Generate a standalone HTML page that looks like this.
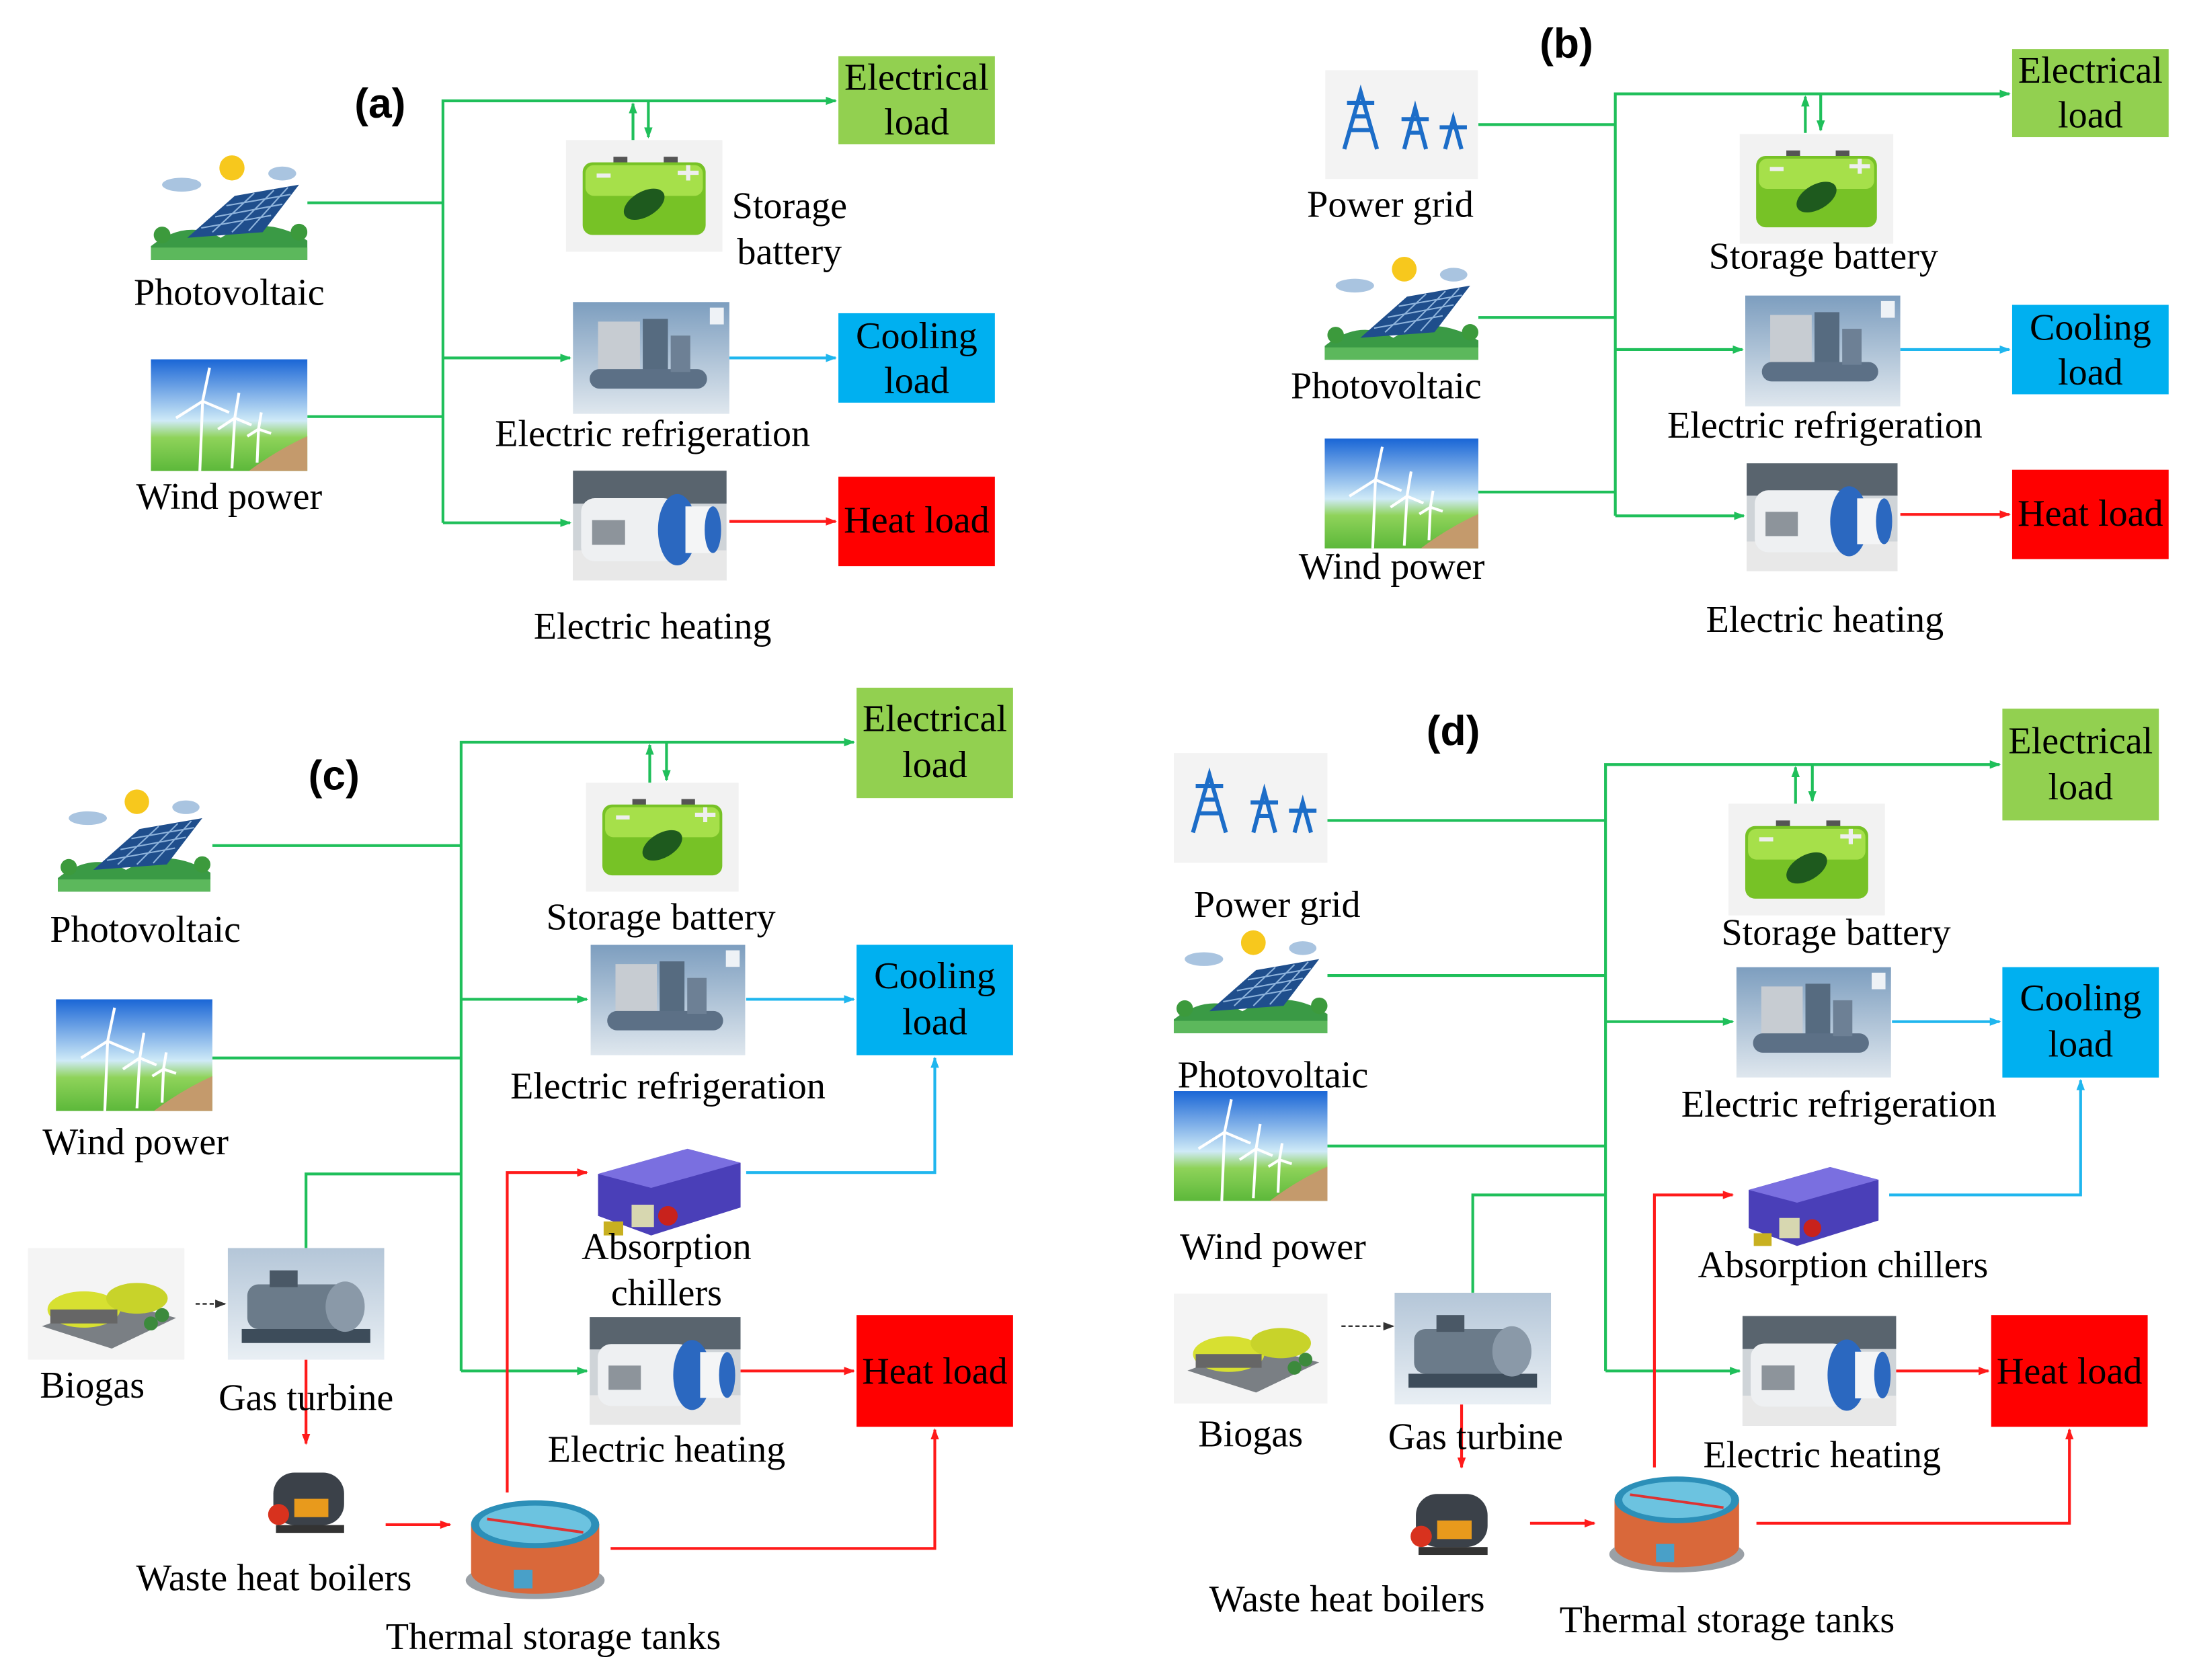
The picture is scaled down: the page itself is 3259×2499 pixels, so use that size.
<!DOCTYPE html>
<html><head><meta charset="utf-8"><style>
html,body{margin:0;padding:0;background:#fff}
svg{display:block}
text{font-family:"Liberation Serif",serif;fill:#000}
.l{font-size:27px;text-anchor:middle}
.b{font-size:27px;text-anchor:middle}
.t{font-family:"Liberation Sans",sans-serif;font-weight:bold;font-size:30px;text-anchor:middle}
.g{stroke:#1fbf5a;stroke-width:2;fill:none}
.c{stroke:#1fb6ee;stroke-width:2;fill:none}
.r{stroke:#ff1a1a;stroke-width:2;fill:none}
</style></head><body>
<svg width="3259" height="2499" viewBox="0 0 1568 1202" xmlns="http://www.w3.org/2000/svg">
<defs>
<marker id="mg" markerWidth="8" markerHeight="8" refX="7" refY="4" orient="auto" markerUnits="userSpaceOnUse"><path d="M0,1 L8,4 L0,7z" fill="#1fbf5a"/></marker>
<marker id="mb" markerWidth="8" markerHeight="8" refX="7" refY="4" orient="auto" markerUnits="userSpaceOnUse"><path d="M0,1 L8,4 L0,7z" fill="#1fb6ee"/></marker>
<marker id="mr" markerWidth="8" markerHeight="8" refX="7" refY="4" orient="auto" markerUnits="userSpaceOnUse"><path d="M0,1 L8,4 L0,7z" fill="#ff1a1a"/></marker>
<marker id="mk" markerWidth="8" markerHeight="8" refX="7" refY="4" orient="auto" markerUnits="userSpaceOnUse"><path d="M0,1 L8,4 L0,7z" fill="#333"/></marker>
<linearGradient id="sky" x1="0" y1="0" x2="0" y2="1"><stop offset="0" stop-color="#1a66d6"/><stop offset="0.55" stop-color="#cfeaf7"/><stop offset="0.7" stop-color="#8fd35a"/><stop offset="1" stop-color="#5cb83a"/></linearGradient>
<linearGradient id="rf" x1="0" y1="0" x2="0" y2="1"><stop offset="0" stop-color="#7d9ebf"/><stop offset="1" stop-color="#dfe7ee"/></linearGradient>
<linearGradient id="gtg" x1="0" y1="0" x2="0" y2="1"><stop offset="0" stop-color="#b4c6d8"/><stop offset="1" stop-color="#e9eff4"/></linearGradient>
<symbol id="pv" viewBox="0 0 112 80">
<rect width="112" height="80" fill="#fff"/>
<ellipse cx="22" cy="26" rx="14" ry="5" fill="#a9c4e0"/><ellipse cx="94" cy="18" rx="10" ry="5" fill="#a9c4e0"/>
<circle cx="58" cy="14" r="9" fill="#f7c81d"/>
<path d="M0,70 Q25,50 50,64 Q80,46 112,66 L112,80 L0,80z" fill="#3a9a45"/>
<path d="M26,64 L60,34 L106,26 L80,60z" fill="#1f4e8c"/>
<path d="M36,57 L86,48 M46,49 L94,40 M54,41 L100,33 M44,60 L74,32 M58,60 L88,30 M70,59 L98,28" stroke="#8fb4dc" stroke-width="1"/>
<rect x="0" y="71" width="112" height="9" fill="#5cb85c"/>
<circle cx="8" cy="62" r="6" fill="#3c9a3c"/><circle cx="106" cy="60" r="6" fill="#3c9a3c"/>
</symbol>
<symbol id="wind" viewBox="0 0 112 80">
<rect width="112" height="80" fill="url(#sky)"/>
<path d="M70,80 Q90,65 112,55 L112,80z" fill="#c49a6c"/>
<g stroke="#fff" stroke-width="2"><path d="M35,80 L37,30 M37,30 L42,6 M37,30 L18,42 M37,30 L56,38"/><path d="M58,78 L60,42 M60,42 L63,24 M60,42 L48,50 M60,42 L72,47"/><path d="M76,74 L77,50 M77,50 L79,38 M77,50 L69,55 M77,50 L86,53"/></g>
</symbol>
<symbol id="bat" viewBox="0 0 112 80">
<rect width="112" height="80" fill="#f2f2f2"/>
<rect x="34" y="12" width="10" height="6" fill="#555"/><rect x="70" y="12" width="10" height="6" fill="#555"/>
<rect x="12" y="16" width="88" height="52" rx="7" fill="#77c226"/>
<rect x="14" y="18" width="84" height="22" rx="6" fill="#a6e04a"/>
<ellipse cx="56" cy="46" rx="16" ry="9" transform="rotate(-30 56 46)" fill="#1e5a1e"/>
<rect x="22" y="24" width="10" height="3" fill="#eee"/><path d="M80,22 h6 v-4 h3 v4 h6 v3 h-6 v4 h-3 v-4 h-6z" fill="#eee"/>
</symbol>
<symbol id="ref" viewBox="0 0 112 80">
<rect width="112" height="80" fill="url(#rf)"/>
<rect x="18" y="14" width="30" height="36" fill="#c7ccd2"/>
<rect x="50" y="12" width="18" height="40" fill="#566b80"/>
<rect x="12" y="48" width="84" height="14" rx="7" fill="#5c7086"/>
<rect x="70" y="24" width="14" height="26" fill="#6d8095"/>
<rect x="98" y="4" width="10" height="12" fill="#eef2f6"/>
</symbol>
<symbol id="heat" viewBox="0 0 112 80">
<rect width="112" height="80" fill="#cfd4d8"/>
<rect x="0" y="0" width="112" height="24" fill="#59646e"/>
<rect x="0" y="58" width="112" height="22" fill="#e8e8e8"/>
<rect x="6" y="20" width="70" height="46" rx="10" fill="#eef0f2"/>
<ellipse cx="76" cy="43" rx="14" ry="26" fill="#2b68c0"/>
<rect x="82" y="26" width="20" height="34" fill="#f4f5f6"/><ellipse cx="102" cy="43" rx="6" ry="17" fill="#2b68c0"/>
<rect x="14" y="36" width="24" height="18" fill="#8d949b"/>
</symbol>
<symbol id="grid" viewBox="0 0 112 80">
<rect width="112" height="80" fill="#f3f3f3"/>
<g stroke="#1c6dc8" stroke-width="3" fill="none">
<path d="M14,58 L26,16 L38,58 M18,44 L34,44 M16,24 L36,24 M20,34 L32,34"/>
<path d="M58,58 L66,28 L74,58 M56,36 L76,36 M60,46 L72,46"/>
<path d="M88,58 L94,36 L100,58 M84,42 L104,42"/></g>
</symbol>
<symbol id="bio" viewBox="0 0 112 80">
<rect width="112" height="80" fill="#f4f4f4"/>
<path d="M10,56 L60,72 L106,50 L60,38z" fill="#7a7f84"/>
<ellipse cx="40" cy="44" rx="26" ry="13" fill="#d7e031"/><ellipse cx="78" cy="36" rx="22" ry="11" fill="#c8d32a"/>
<rect x="16" y="44" width="48" height="10" fill="#666"/>
<circle cx="96" cy="48" r="5" fill="#3c8a3c"/><circle cx="88" cy="54" r="5" fill="#3c8a3c"/>
</symbol>
<symbol id="gtb" viewBox="0 0 112 80">
<rect width="112" height="80" fill="url(#gtg)"/>
<rect x="10" y="58" width="92" height="10" fill="#3d4c5a"/>
<rect x="14" y="26" width="80" height="32" rx="8" fill="#6b7b8a"/>
<ellipse cx="84" cy="42" rx="14" ry="18" fill="#8a99a8"/>
<rect x="30" y="16" width="20" height="12" fill="#4a5866"/>
</symbol>
<symbol id="boil" viewBox="0 0 80 80">
<rect width="80" height="80" fill="#fff"/>
<rect x="14" y="20" width="54" height="40" rx="16" fill="#3b4149"/>
<rect x="30" y="40" width="26" height="14" fill="#e89a1c"/>
<circle cx="18" cy="52" r="8" fill="#d8321e"/>
<rect x="16" y="60" width="52" height="6" fill="#333"/>
</symbol>
<symbol id="tank" viewBox="0 0 112 90">
<rect width="112" height="90" fill="#fff"/>
<ellipse cx="56" cy="70" rx="52" ry="14" fill="#9aa0a6"/>
<path d="M8,28 L8,64 A48,16 0 0 0 104,64 L104,28z" fill="#d9683a"/>
<ellipse cx="56" cy="28" rx="48" ry="18" fill="#2c8fb8"/>
<ellipse cx="56" cy="28" rx="42" ry="14" fill="#6cc3e0"/>
<path d="M20,24 L92,34" stroke="#d33" stroke-width="2"/>
<rect x="40" y="62" width="14" height="14" fill="#49a0c8"/>
</symbol>
<symbol id="abs" viewBox="0 0 112 90">
<rect width="112" height="90" fill="#fff"/>
<path d="M6,40 L70,22 L108,32 L108,64 L44,84 L6,70z" fill="#4a3fb8"/>
<path d="M6,40 L70,22 L108,32 L44,50z" fill="#7a6fe0"/>
<rect x="30" y="62" width="16" height="16" fill="#d7d7b0"/>
<circle cx="56" cy="70" r="7" fill="#c8221c"/>
<rect x="10" y="74" width="14" height="10" fill="#c8b020"/>
</symbol>
</defs>

<!-- ========== (a) ========== -->
<text class="t" x="272" y="84">(a)</text>
<rect x="600" y="40" width="112" height="63" fill="#92d050"/>
<text class="b" x="656" y="64">Electrical</text><text class="b" x="656" y="96">load</text>
<rect x="600" y="224" width="112" height="64" fill="#00b0f0"/>
<text class="b" x="656" y="249">Cooling</text><text class="b" x="656" y="281">load</text>
<rect x="600" y="341" width="112" height="64" fill="#ff0000"/>
<text class="b" x="656" y="381">Heat load</text>
<use href="#pv" x="108" y="105" width="112" height="82"/>
<use href="#wind" x="108" y="257" width="112" height="80"/>
<use href="#bat" x="405" y="100" width="112" height="80"/>
<use href="#ref" x="410" y="215" width="112" height="82"/>
<use href="#heat" x="410" y="336" width="110" height="80"/>
<path class="g" d="M317,374 V72 H598" marker-end="url(#mg)"/>
<path class="g" d="M220,145 H317 M220,298 H317"/>
<path class="g" d="M453,100 V74" marker-end="url(#mg)"/><path class="g" d="M464,72 V98" marker-end="url(#mg)"/>
<path class="g" d="M317,256 H408" marker-end="url(#mg)"/><path class="g" d="M317,374 H408" marker-end="url(#mg)"/>
<path class="c" d="M522,256 H598" marker-end="url(#mb)"/>
<path class="r" d="M522,373 H598" marker-end="url(#mr)"/>
<text class="l" x="164" y="218">Photovoltaic</text>
<text class="l" x="164" y="364">Wind power</text>
<text class="l" x="565" y="156">Storage</text><text class="l" x="565" y="189">battery</text>
<text class="l" x="467" y="319">Electric refrigeration</text>
<text class="l" x="467" y="457">Electric heating</text>

<!-- ========== (b) ========== -->
<text class="t" x="1121" y="41">(b)</text>
<rect x="1440" y="35" width="112" height="63" fill="#92d050"/>
<text class="b" x="1496" y="59">Electrical</text><text class="b" x="1496" y="91">load</text>
<rect x="1440" y="218" width="112" height="64" fill="#00b0f0"/>
<text class="b" x="1496" y="243">Cooling</text><text class="b" x="1496" y="275">load</text>
<rect x="1440" y="336" width="112" height="64" fill="#ff0000"/>
<text class="b" x="1496" y="376">Heat load</text>
<use href="#grid" x="948" y="50" width="110" height="78"/>
<use href="#pv" x="948" y="178" width="110" height="80"/>
<use href="#wind" x="948" y="313" width="110" height="80"/>
<use href="#bat" x="1245" y="95" width="110" height="80"/>
<use href="#ref" x="1249" y="211" width="111" height="80"/>
<use href="#heat" x="1250" y="330" width="108" height="80"/>
<path class="g" d="M1156,369 V67 H1438" marker-end="url(#mg)"/>
<path class="g" d="M1058,89 H1156 M1058,227 H1156 M1058,352 H1156"/>
<path class="g" d="M1292,95 V69" marker-end="url(#mg)"/><path class="g" d="M1303,67 V93" marker-end="url(#mg)"/>
<path class="g" d="M1156,250 H1247" marker-end="url(#mg)"/><path class="g" d="M1156,369 H1248" marker-end="url(#mg)"/>
<path class="c" d="M1360,250 H1438" marker-end="url(#mb)"/>
<path class="r" d="M1360,368 H1438" marker-end="url(#mr)"/>
<text class="l" x="995" y="155">Power grid</text>
<text class="l" x="992" y="285">Photovoltaic</text>
<text class="l" x="996" y="414">Wind power</text>
<text class="l" x="1305" y="192">Storage battery</text>
<text class="l" x="1306" y="313">Electric refrigeration</text>
<text class="l" x="1306" y="452">Electric heating</text>

<!-- ========== (c) ========== -->
<text class="t" x="239" y="565">(c)</text>
<rect x="613" y="492" width="112" height="79" fill="#92d050"/>
<text class="b" x="669" y="523">Electrical</text><text class="b" x="669" y="556">load</text>
<rect x="613" y="676" width="112" height="79" fill="#00b0f0"/>
<text class="b" x="669" y="707">Cooling</text><text class="b" x="669" y="740">load</text>
<rect x="613" y="941" width="112" height="80" fill="#ff0000"/>
<text class="b" x="669" y="990">Heat load</text>
<use href="#pv" x="40" y="560" width="112" height="78"/>
<use href="#wind" x="40" y="715" width="112" height="80"/>
<use href="#bat" x="418" y="560" width="112" height="78"/>
<use href="#ref" x="422" y="676" width="112" height="79"/>
<use href="#abs" x="422" y="800" width="112" height="90"/>
<use href="#heat" x="422" y="941" width="108" height="80"/>
<use href="#bio" x="20" y="893" width="112" height="80"/>
<use href="#gtb" x="163" y="893" width="112" height="80"/>
<use href="#boil" x="180" y="1035" width="80" height="75"/>
<use href="#tank" x="328" y="1064" width="110" height="86"/>
<path class="g" d="M330,981 V531 H611" marker-end="url(#mg)"/>
<path class="g" d="M152,605 H330 M152,757 H330 M219,893 V840 H330"/>
<path class="g" d="M465,560 V533" marker-end="url(#mg)"/><path class="g" d="M477,531 V558" marker-end="url(#mg)"/>
<path class="g" d="M330,715 H420" marker-end="url(#mg)"/><path class="g" d="M330,981 H420" marker-end="url(#mg)"/>
<path class="c" d="M534,715 H611" marker-end="url(#mb)"/>
<path class="c" d="M534,839 H669 V757" marker-end="url(#mb)"/>
<path class="r" d="M530,981 H611" marker-end="url(#mr)"/>
<path class="r" d="M363,1068 V839 H420" marker-end="url(#mr)"/>
<path class="r" d="M219,973 V1033" marker-end="url(#mr)"/>
<path class="r" d="M276,1091 H322" marker-end="url(#mr)"/>
<path class="r" d="M437,1108 H669 V1023" marker-end="url(#mr)"/>
<path d="M140,933 H161" stroke="#333" stroke-width="1.2" stroke-dasharray="3,2" marker-end="url(#mk)"/>
<text class="l" x="104" y="674">Photovoltaic</text>
<text class="l" x="97" y="826">Wind power</text>
<text class="l" x="473" y="665">Storage battery</text>
<text class="l" x="478" y="786">Electric refrigeration</text>
<text class="l" x="477" y="901">Absorption</text><text class="l" x="477" y="934">chillers</text>
<text class="l" x="477" y="1046">Electric heating</text>
<text class="l" x="66" y="1000">Biogas</text>
<text class="l" x="219" y="1009">Gas turbine</text>
<text class="l" x="196" y="1138">Waste heat boilers</text>
<text class="l" x="396" y="1180">Thermal storage tanks</text>

<!-- ========== (d) ========== -->
<text class="t" x="1040" y="533">(d)</text>
<rect x="1433" y="507" width="112" height="80" fill="#92d050"/>
<text class="b" x="1489" y="539">Electrical</text><text class="b" x="1489" y="572">load</text>
<rect x="1433" y="692" width="112" height="79" fill="#00b0f0"/>
<text class="b" x="1489" y="723">Cooling</text><text class="b" x="1489" y="756">load</text>
<rect x="1425" y="941" width="112" height="80" fill="#ff0000"/>
<text class="b" x="1481" y="990">Heat load</text>
<use href="#grid" x="840" y="538" width="110" height="80"/>
<use href="#pv" x="840" y="660" width="110" height="80"/>
<use href="#wind" x="840" y="780" width="110" height="80"/>
<use href="#bat" x="1237" y="575" width="112" height="80"/>
<use href="#ref" x="1242" y="692" width="112" height="79"/>
<use href="#abs" x="1242" y="815" width="110" height="82"/>
<use href="#heat" x="1247" y="941" width="110" height="80"/>
<use href="#bio" x="840" y="925" width="110" height="80"/>
<use href="#gtb" x="998" y="925" width="112" height="80"/>
<use href="#boil" x="998" y="1050" width="80" height="76"/>
<use href="#tank" x="1148" y="1046" width="104" height="86"/>
<path class="g" d="M1149,981 V547 H1431" marker-end="url(#mg)"/>
<path class="g" d="M950,587 H1149 M950,698 H1149 M950,820 H1149 M1054,925 V855 H1149"/>
<path class="g" d="M1285,575 V549" marker-end="url(#mg)"/><path class="g" d="M1297,547 V573" marker-end="url(#mg)"/>
<path class="g" d="M1149,731 H1240" marker-end="url(#mg)"/><path class="g" d="M1149,981 H1245" marker-end="url(#mg)"/>
<path class="c" d="M1354,731 H1431" marker-end="url(#mb)"/>
<path class="c" d="M1352,855 H1489 V773" marker-end="url(#mb)"/>
<path class="r" d="M1357,981 H1423" marker-end="url(#mr)"/>
<path class="r" d="M1184,1050 V855 H1240" marker-end="url(#mr)"/>
<path class="r" d="M1046,1005 V1050" marker-end="url(#mr)"/>
<path class="r" d="M1095,1090 H1141" marker-end="url(#mr)"/>
<path class="r" d="M1257,1090 H1481 V1023" marker-end="url(#mr)"/>
<path d="M960,949 H997" stroke="#333" stroke-width="1.2" stroke-dasharray="3,2" marker-end="url(#mk)"/>
<text class="l" x="914" y="656">Power grid</text>
<text class="l" x="911" y="778">Photovoltaic</text>
<text class="l" x="911" y="901">Wind power</text>
<text class="l" x="1314" y="676">Storage battery</text>
<text class="l" x="1316" y="799">Electric refrigeration</text>
<text class="l" x="1319" y="914">Absorption chillers</text>
<text class="l" x="1304" y="1050">Electric heating</text>
<text class="l" x="895" y="1035">Biogas</text>
<text class="l" x="1056" y="1037">Gas turbine</text>
<text class="l" x="964" y="1153">Waste heat boilers</text>
<text class="l" x="1236" y="1168">Thermal storage tanks</text>
</svg>
</body></html>
